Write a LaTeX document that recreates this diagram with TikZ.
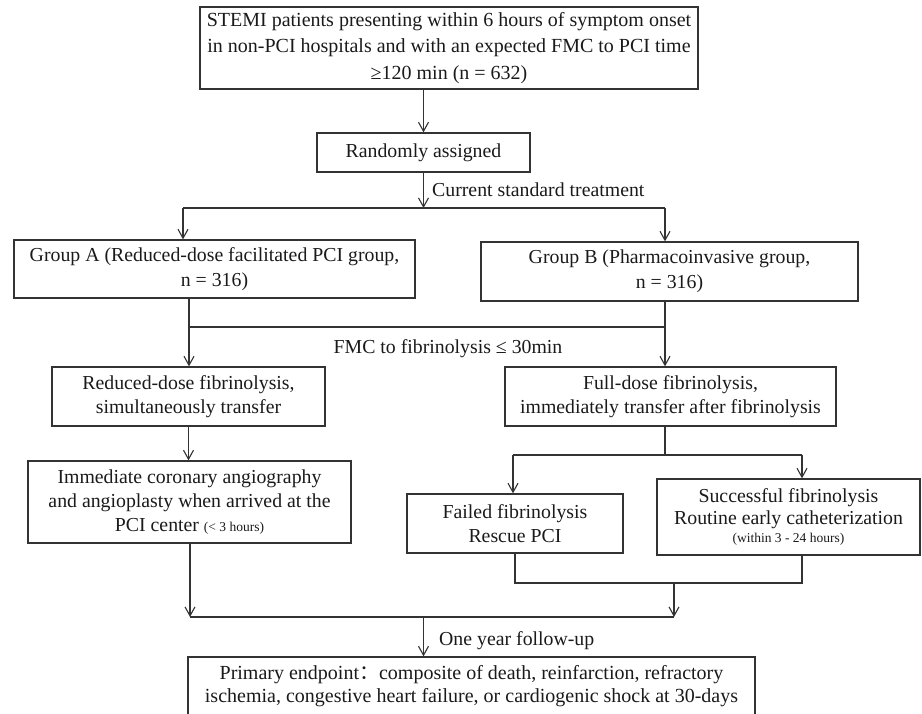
\documentclass[tikz,border=0pt]{standalone}
\usepackage{fontspec}
\setmainfont{Liberation Serif}
\newfontfamily\cjkfont{Noto Sans CJK SC}
\usetikzlibrary{arrows.meta}
\definecolor{linegray}{HTML}{333333}
\definecolor{txt}{HTML}{1A1A1A}
\begin{document}
\begin{tikzpicture}[x=1pt,y=-1pt,
  box/.style={draw=linegray, line width=1.3pt, align=center, inner sep=0pt,
              text=txt, font=\fontsize{19.8}{24}\selectfont},
  conn/.style={draw=linegray, line width=1.1pt},
  arr/.style={conn, -{Straight Barb[length=9pt,width=10pt]}},
  lbl/.style={inner sep=0pt, text=txt, font=\fontsize{19.8}{24}\selectfont}]
\useasboundingbox (0,0) rectangle (922,714);

% boxes
\node[box, font=\fontsize{20}{26.5}\selectfont, minimum width=498pt, minimum height=82pt] (top) at (449,48)
  {STEMI patients presenting within 6 hours of symptom onset\\
   in non-PCI hospitals and with an expected FMC to PCI time\\
   ≥120 min (n = 632)};
\node[box, minimum width=213pt, minimum height=39pt] (rand) at (423.5,152.5) {Randomly assigned};
\node[box, font=\fontsize{19.8}{25}\selectfont, minimum width=401pt, minimum height=58pt] (ga) at (214.5,269)
  {Group A (Reduced-dose facilitated PCI group,\\ n = 316)};
\node[box, font=\fontsize{19.8}{25}\selectfont, minimum width=377pt, minimum height=59pt] (gb) at (669.5,271.5)
  {Group B (Pharmacoinvasive group,\\ n = 316)};
\node[box, minimum width=273pt, minimum height=59pt] (red) at (188.5,396.5)
  {Reduced-dose fibrinolysis,\\ simultaneously transfer};
\node[box, minimum width=331pt, minimum height=59pt] (full) at (670.5,396.5)
  {Full-dose fibrinolysis,\\ immediately transfer after fibrinolysis};
\node[box, minimum width=323pt, minimum height=82pt] (imm) at (189.5,502)
  {Immediate coronary angiography\\ and angioplasty when arrived at the\\
   PCI center {\fontsize{13.5}{16}\selectfont (< 3 hours)}};
\node[box, minimum width=216pt, minimum height=59pt] (fail) at (515,523.5)
  {Failed fibrinolysis\\ Rescue PCI};
\node[box, font=\fontsize{19.8}{22}\selectfont, minimum width=263pt, minimum height=76pt] (succ) at (788.5,517)
  {Successful fibrinolysis\\ Routine early catheterization\\[-4pt]
   {\fontsize{13.5}{16}\selectfont (within 3 - 24 hours)}};
\node[box, font=\fontsize{20}{23}\selectfont, minimum width=567pt, minimum height=59pt] (bot) at (471.5,686.5)
  {Primary endpoint{\cjkfont ：}composite of death, reinfarction, refractory\\
   ischemia, congestive heart failure, or cardiogenic shock at 30-days};

% labels
\node[lbl, anchor=base west] (lcur) at (432,197) {Current standard treatment};
\node[lbl, anchor=base] (lfmc) at (448,354) {FMC to fibrinolysis ≤ 30min};
\node[lbl, anchor=base west] (lone) at (439,645) {One year follow-up};

% junction points
\coordinate (h1) at (423.5,208);
\coordinate (h1l) at (183,208);
\coordinate (h1r) at (665,208);
\coordinate (h2l) at (189,327);
\coordinate (h2r) at (665,327);
\coordinate (h3) at (665,455);
\coordinate (h3l) at (513,455);
\coordinate (h3r) at (802,455);
\coordinate (h4l) at (515,583);
\coordinate (h4r) at (802,583);
\coordinate (h4m) at (674,583);
\coordinate (h5l) at (190,617);
\coordinate (h5r) at (674,617);
\coordinate (h5m) at (423.5,617);

% connectors
\draw[arr] (top.south -| rand.north) -- (rand.north);
\draw[arr] (rand.south) -- (h1);
\draw[conn] (h1l) -- (h1r);
\draw[arr] (h1l) -- (h1l |- ga.north);
\draw[arr] (h1r) -- (h1r |- gb.north);

\draw[conn] (ga.south -| h2l) -- (h2l) -- (h2r) -- (gb.south -| h2r);
\draw[arr] (h2l) -- (h2l |- red.north);
\draw[arr] (h2r) -- (h2r |- full.north);

\draw[arr] (red.south) -- (imm.north -| red.south);

\draw[conn] (full.south -| h3) -- (h3);
\draw[conn] (h3l) -- (h3r);
\draw[arr] (h3l) -- (h3l |- fail.north);
\draw[arr] (h3r) -- (h3r |- succ.north);

\draw[conn] (fail.south -| h4l) -- (h4l) -- (h4r) -- (succ.south -| h4r);
\draw[arr] (h4m) -- (h5r);
\draw[arr] (imm.south -| h5l) -- (h5l);
\draw[conn] (h5l) -- (h5r);
\draw[arr] (h5m) -- (h5m |- bot.north);
\end{tikzpicture}
\end{document}
